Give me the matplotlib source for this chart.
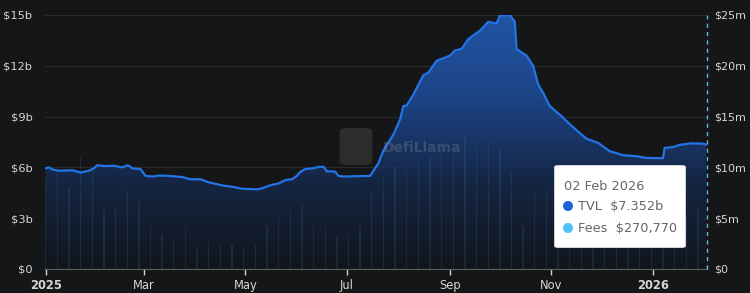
import numpy as np
import pandas as pd
import matplotlib
matplotlib.use('Agg')
import matplotlib.pyplot as plt
import matplotlib.dates as mdates
from matplotlib.patches import FancyBboxPatch, Ellipse
from matplotlib.colors import LinearSegmentedColormap

# TVL in $b
tvl_dates = ['2025-01-01', '2025-01-03', '2025-01-05', '2025-01-09', '2025-01-17', '2025-01-22',
             '2025-01-27', '2025-01-30', '2025-02-01', '2025-02-05', '2025-02-11', '2025-02-16',
             '2025-02-19', '2025-02-20', '2025-02-22', '2025-02-27', '2025-03-02', '2025-03-07',
             '2025-03-10', '2025-03-16', '2025-03-24', '2025-03-29', '2025-04-04', '2025-04-09',
             '2025-04-18', '2025-04-23', '2025-04-29', '2025-05-08', '2025-05-11', '2025-05-16',
             '2025-05-21', '2025-05-25', '2025-05-29', '2025-06-01', '2025-06-03', '2025-06-06',
             '2025-06-11', '2025-06-14', '2025-06-17', '2025-06-19', '2025-06-24', '2025-06-26',
             '2025-06-29', '2025-07-15', '2025-07-20', '2025-07-23', '2025-07-29', '2025-08-02',
             '2025-08-04', '2025-08-06', '2025-08-10', '2025-08-16', '2025-08-19', '2025-08-24',
             '2025-09-01', '2025-09-04', '2025-09-08', '2025-09-12', '2025-09-15', '2025-09-19',
             '2025-09-24', '2025-09-29', '2025-10-01', '2025-10-07', '2025-10-10', '2025-10-11',
             '2025-10-17', '2025-10-21', '2025-10-24', '2025-10-27', '2025-10-31', '2025-11-07',
             '2025-11-10', '2025-11-16', '2025-11-22', '2025-11-29', '2025-12-06', '2025-12-14',
             '2025-12-22', '2025-12-28', '2026-01-07', '2026-01-08', '2026-01-13', '2026-01-17',
             '2026-01-24', '2026-01-31', '2026-02-02']
tvl_values = [5.95, 6.0, 5.88, 5.8, 5.83, 5.7,
              5.8, 5.95, 6.13, 6.08, 6.1, 6.0,
              6.12, 6.1, 5.95, 5.9, 5.5, 5.46,
              5.52, 5.5, 5.43, 5.3, 5.3, 5.12,
              4.92, 4.86, 4.74, 4.7, 4.76, 4.95,
              5.05, 5.25, 5.3, 5.5, 5.73, 5.9,
              5.95, 6.03, 6.03, 5.77, 5.75, 5.5,
              5.46, 5.5, 6.25, 7.0, 7.94, 8.83,
              9.62, 9.66, 10.3, 11.44, 11.6, 12.3,
              12.6, 12.9, 13.0, 13.57, 13.8, 14.07,
              14.6, 14.5, 14.96, 15.0, 14.6, 13.0,
              12.6, 12.0, 10.9, 10.4, 9.62, 9.03,
              8.74, 8.2, 7.7, 7.45, 6.96, 6.72,
              6.66, 6.56, 6.54, 7.15, 7.2, 7.33,
              7.42, 7.4, 7.352]

# weekly fees in $m, starting 2025-01-01
fee_start = '2025-01-01'
fee_values = [9.0, 9.6, 8.1, 11.1, 9.6, 5.8, 6.1, 7.7, 6.6, 4.3,
              3.4, 3.0, 3.9, 2.2, 2.7, 2.6, 2.5, 2.2, 2.5, 4.2,
              5.0, 5.8, 6.2, 4.3, 4.0, 3.2, 3.4, 4.3, 7.6, 9.0,
              10.0, 9.5, 10.5, 11.0, 12.5, 11.3, 13.0, 12.5, 12.5, 11.8,
              9.5, 4.2, 7.6, 7.8, 5.0, 4.5, 5.5, 5.0, 4.8, 5.2,
              5.0, 4.6, 5.5, 5.0, 4.8, 5.2, 6.0]
last_fee_date = '2026-02-02'
last_fee_value = 0.27

left_ticks = [0, 3, 6, 9, 12, 15]
left_labels = ['$0', '$3b', '$6b', '$9b', '$12b', '$15b']
right_ticks = [0, 5, 10, 15, 20, 25]
right_labels = ['$0', '$5m', '$10m', '$15m', '$20m', '$25m']
x_ticks = ['2025-01-01', '2025-03-01', '2025-05-01', '2025-07-01', '2025-09-01', '2025-11-01', '2026-01-01']
x_labels = ['2025', 'Mar', 'May', 'Jul', 'Sep', 'Nov', '2026']

bg = '#141617'
txt = '#d6d6d6'

fig = plt.figure(figsize=(7.5, 2.93), dpi=100, facecolor=bg)
ax = fig.add_axes([45 / 750, 24 / 293, 662 / 750, 254 / 293])
ax2 = ax.twinx()
ax.set_facecolor(bg)
ax2.patch.set_visible(False)

# tvl
tx = mdates.date2num(pd.to_datetime(tvl_dates))
ty = np.array(tvl_values)
xmin = mdates.date2num(pd.Timestamp('2024-12-31 14:00'))
xmax = mdates.date2num(pd.Timestamp('2026-02-02 12:00'))

poly = ax.fill_between(tx, ty, 0, facecolor='none', edgecolor='none')
cmap = LinearSegmentedColormap.from_list('g', ['#11161e', '#15284a', '#1e4c9a', '#2460c0'])
grad = np.linspace(0, 1, 256).reshape(-1, 1)
im = ax.imshow(grad, extent=[xmin, xmax, 0, 15], origin='lower', aspect='auto',
               cmap=cmap, alpha=0.85, zorder=1)
im.set_clip_path(poly.get_paths()[0], transform=ax.transData)

# fees bars (right scale), drawn over the tvl fill
fee_x = mdates.date2num(pd.date_range(fee_start, periods=len(fee_values), freq='7D'))
ax2.bar(fee_x, fee_values, width=0.8, color='#4f9ac4', alpha=0.14, linewidth=0, zorder=1)
ax2.bar(mdates.date2num(pd.Timestamp(last_fee_date)), last_fee_value, width=0.8,
        color='#4f9ac4', alpha=0.14, linewidth=0, zorder=1)

ax.plot(tx, ty, color='#2374e6', lw=1.6, zorder=3, solid_joinstyle='round')

ax.set_xlim(xmin, xmax)
ax2.set_xlim(xmin, xmax)
ax.set_ylim(0, 15)
ax2.set_ylim(0, 25)

ax.set_yticks(left_ticks)
ax.set_yticklabels(left_labels)
ax2.set_yticks(right_ticks)
ax2.set_yticklabels(right_labels)
ax.tick_params(axis='y', length=0, pad=9, labelsize=8.2, labelcolor=txt)
ax2.tick_params(axis='y', length=0, pad=5, labelsize=8.0, labelcolor=txt)
ax.grid(axis='y', color='#272b2f', lw=0.8, zorder=0)
ax.set_axisbelow(True)

ax.set_xticks(mdates.date2num(pd.to_datetime(x_ticks)))
ax.set_xticklabels(x_labels)
ax.tick_params(axis='x', length=4, width=1, color='#d0d0d0', labelsize=8.3, labelcolor=txt, pad=3)
for lab in ax.get_xticklabels():
    if lab.get_text() in ('2025', '2026'):
        lab.set_fontweight('bold')
ax2.tick_params(axis='x', length=0, labelbottom=False)

for a in (ax, ax2):
    for s in ('top', 'left', 'right', 'bottom'):
        a.spines[s].set_visible(False)
ax.spines['bottom'].set_visible(True)
ax.spines['bottom'].set_color('#5c6166')
ax.spines['bottom'].set_zorder(6)
ax2.axvline(xmax, color='#5fb8e0', lw=1, ls=(0, (3, 3)), zorder=5, clip_on=False)

# watermark
fig.patches.append(FancyBboxPatch((342 / 750, 1 - 164 / 293), 28 / 750, 35 / 293,
                                  boxstyle='round,pad=0.003,rounding_size=0.012',
                                  transform=fig.transFigure,
                                  facecolor='#6a6a6a', edgecolor='none', alpha=0.28))
fig.text(383 / 750, 1 - 148 / 293, 'DefiLlama', fontsize=10, fontweight='bold',
         color='#8a9098', alpha=0.3, va='center', ha='left')

# tooltip
fig.patches.append(FancyBboxPatch((556 / 750, 1 - 247 / 293), 128 / 750, 81 / 293,
                                  boxstyle='round,pad=0.002,rounding_size=0.006',
                                  transform=fig.transFigure, facecolor='white',
                                  edgecolor='#dddddd', lw=0.6, zorder=10))
fig.text(564 / 750, 1 - 186 / 293, '02 Feb 2026', fontsize=9.3, color='#666666',
         va='center', ha='left', zorder=11)
fig.patches.append(Ellipse((568 / 750, 1 - 206 / 293), 10 / 750, 10 / 293,
                           transform=fig.transFigure,
                           facecolor='#1f63d8', edgecolor='none', zorder=11))
fig.text(578 / 750, 1 - 206 / 293, 'TVL  $7.352b', fontsize=9.3, color='#666666',
         va='center', ha='left', zorder=11)
fig.patches.append(Ellipse((568 / 750, 1 - 228 / 293), 10 / 750, 10 / 293,
                           transform=fig.transFigure,
                           facecolor='#4fc3f7', edgecolor='none', zorder=11))
fig.text(578 / 750, 1 - 228 / 293, 'Fees  $270,770', fontsize=9.3, color='#666666',
         va='center', ha='left', zorder=11)

fig.savefig('out.png', dpi=100, facecolor=bg)
